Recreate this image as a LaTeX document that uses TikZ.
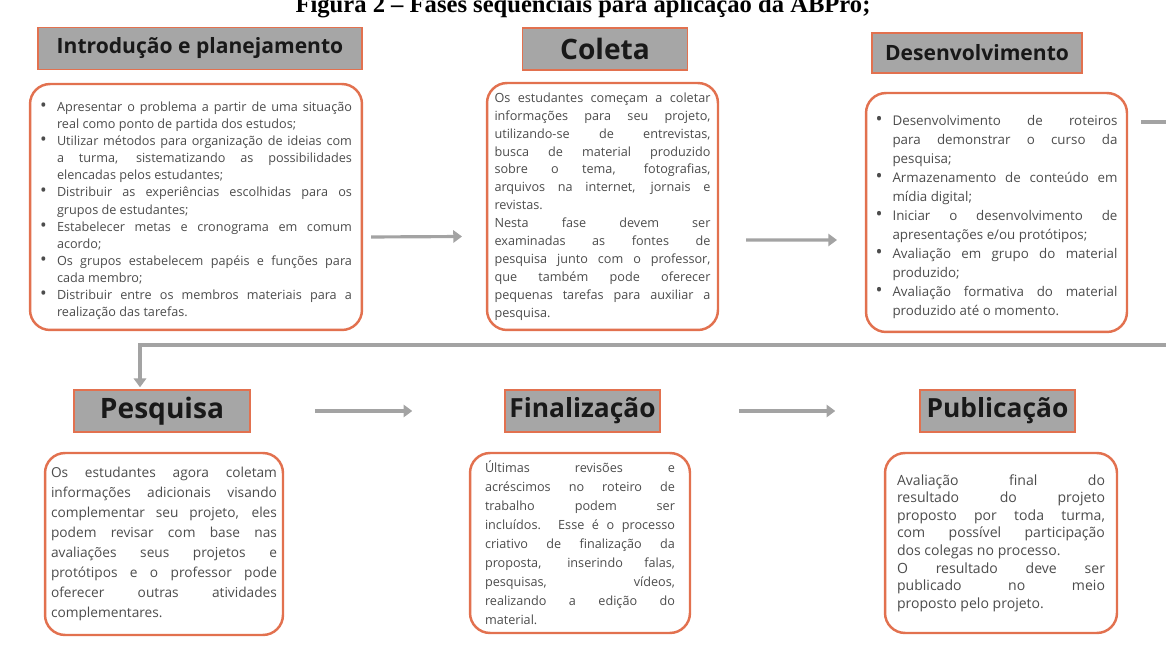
\documentclass[tikz,border=0pt]{standalone}
\usepackage{fontspec}
\setmainfont{Open Sans}
\newfontfamily\fontetitulo{Liberation Serif}
\usepackage{tikz}
\usetikzlibrary{arrows.meta}
\definecolor{laranja}{HTML}{E2714F}
\definecolor{cinza}{HTML}{A6A6A6}
\definecolor{cinzaseta}{HTML}{A3A3A3}
\newcommand{\marca}{\par\noindent\hangindent=0.34cm\hangafter=1\makebox[0.34cm][l]{\scalebox{1.4}{\textbullet}}}

\begin{document}
\begin{tikzpicture}[x=0.02cm, y=-0.02cm,
    titulo/.style={draw=laranja, line width=1.1pt, fill=cinza, inner sep=0pt,
      minimum height=0.84cm, text=black!90, font=\bfseries\fontsize{12}{14}\selectfont},
    titulogrande/.style={titulo, font=\bfseries\fontsize{15}{17}\selectfont},
    caixa/.style={draw=laranja, line width=1.4pt, rounded corners=0.4cm, fill=white,
      align=justify, text=black!70, inner ysep=0pt},
    seta/.style={draw=cinzaseta, line width=1.8pt, -{Triangle[length=5pt,width=7pt]}, shorten >=1pt}]
    \useasboundingbox (0,0) rectangle (1166,651);

    \node[anchor=base, font=\fontetitulo\bfseries\fontsize{14}{16}\selectfont] (legenda) at (583,13)
      {Figura 2 – Fases sequenciais para aplicação da ABPro;};

    % cabecalhos
    \node[titulo, minimum width=6.48cm] (intro) at (200,48.5) {Introdução e planejamento};
    \node[titulogrande, minimum width=3.3cm, font=\bfseries\fontsize{16}{18}\selectfont] (coleta) at (605,49) {Coleta};
    \node[titulo, minimum width=4.2cm, minimum height=0.8cm] (desenv) at (977,53) {Desenvolvimento};
    \node[titulogrande, minimum width=3.52cm, font=\bfseries\fontsize{16}{18}\selectfont] (pesq) at (162,411) {Pesquisa};
    \node[titulogrande, minimum width=3.1cm] (final) at (582.5,411) {Finalização};
    \node[titulogrande, minimum width=3.1cm] (publ) at (997.5,411) {Publicação};

    % caixas de texto
    \node[caixa, text width=6.24cm, inner xsep=0.2cm, minimum height=4.92cm,
      font=\fontsize{7.2}{9.75}\selectfont] (introtxt) at (196,207) {%
      \marca Apresentar o problema a partir de uma situação\linebreak real como ponto de partida dos estudos;
      \marca Utilizar métodos para organização de ideias com\linebreak a turma, sistematizando as possibilidades\linebreak elencadas pelos estudantes;
      \marca Distribuir as experiências escolhidas para os\linebreak grupos de estudantes;
      \marca Estabelecer metas e cronograma em comum\linebreak acordo;
      \marca Os grupos estabelecem papéis e funções para\linebreak cada membro;
      \marca Distribuir entre os membros materiais para a\linebreak realização das tarefas.\par};
    \node[caixa, text width=4.32cm, inner xsep=0.15cm, minimum height=4.94cm,
      font=\fontsize{7.2}{10.2}\selectfont] (coletatxt) at (602.5,206.5) {%
      Os estudantes começam a coletar\linebreak informações para seu projeto,\linebreak utilizando-se de entrevistas,\linebreak busca de material produzido\linebreak sobre o tema, fotografias,\linebreak arquivos na internet, jornais e\linebreak revistas.\par
      Nesta fase devem ser\linebreak examinadas as fontes de\linebreak pesquisa junto com o professor,\linebreak que também pode oferecer\linebreak pequenas tarefas para auxiliar a\linebreak pesquisa.};
    \node[caixa, text width=4.84cm, inner xsep=0.19cm, minimum height=4.78cm,
      font=\fontsize{7.6}{10.8}\selectfont] (desenvtxt) at (996.5,212.5) {%
      \marca Desenvolvimento de roteiros\linebreak para demonstrar o curso da\linebreak pesquisa;
      \marca Armazenamento de conteúdo em\linebreak mídia digital;
      \marca Iniciar o desenvolvimento de\linebreak apresentações e/ou protótipos;
      \marca Avaliação em grupo do material\linebreak produzido;
      \marca Avaliação formativa do material\linebreak produzido até o momento.\par};
    \node[caixa, text width=4.52cm, inner xsep=0.12cm, minimum height=3.64cm,
      font=\fontsize{7.8}{11.4}\selectfont] (pesqtxt) at (164,544) {%
      Os estudantes agora coletam\linebreak informações adicionais visando\linebreak complementar seu projeto, eles\linebreak podem revisar com base nas\linebreak avaliações seus projetos e\linebreak protótipos e o professor pode\linebreak oferecer outras atividades\linebreak complementares.};
    \node[caixa, text width=3.8cm, inner xsep=0.3cm, minimum height=3.6cm,
      font=\fontsize{7.2}{10.8}\selectfont] (finaltxt) at (580,543) {%
      Últimas revisões e\linebreak acréscimos no roteiro de\linebreak trabalho podem ser\linebreak incluídos. Esse é o processo\linebreak criativo de finalização da\linebreak proposta, inserindo falas,\linebreak pesquisas, vídeos,\linebreak realizando a edição do\linebreak material.};
    \node[caixa, text width=4.16cm, inner xsep=0.24cm, minimum height=3.6cm,
      font=\fontsize{8}{10}\selectfont] (publtxt) at (1001,543) {%
      Avaliação final do\linebreak resultado do projeto\linebreak proposto por toda turma,\linebreak com possível participação\linebreak dos colegas no processo.\par
      O resultado deve ser\linebreak publicado no meio\linebreak proposto pelo projeto.};

    % setas
    \draw[seta] ([xshift=0.16cm,yshift=-0.6cm]introtxt.east) -- ([xshift=-0.44cm,yshift=-0.6cm]coletatxt.west);
    \draw[seta] ([xshift=0.54cm,yshift=-0.67cm]coletatxt.east) -- ([xshift=-0.52cm,yshift=-0.55cm]desenvtxt.west);
    \coordinate (canto) at (1190,345);
    \draw[seta] ([xshift=0.26cm,yshift=1.81cm]desenvtxt.east) -| (canto) -| ([xshift=-0.44cm]pesq.north);
    \draw[seta] ([xshift=1.28cm]pesq.east) -- ([xshift=-1.8cm]final.west);
    \draw[seta] ([xshift=1.56cm]final.east) -- ([xshift=-1.64cm]publ.west);
  \end{tikzpicture}
\end{document}
